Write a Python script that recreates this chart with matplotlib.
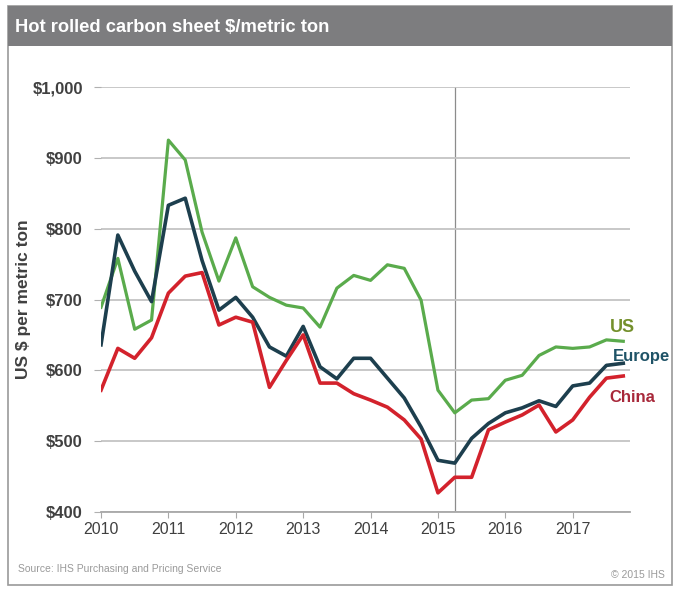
import numpy as np
import matplotlib.pyplot as plt
from matplotlib.patches import Rectangle

# ---------------------------------------------------------------
# Dados trimestrais (2010T1 .. 2017T4), US$ por tonelada métrica
# ---------------------------------------------------------------
quarters = np.arange(32)
years = [2010, 2011, 2012, 2013, 2014, 2015, 2016, 2017]

us = [689, 758, 658, 671, 925, 897, 795, 726, 787, 718, 703, 692,
      688, 661, 716, 734, 727, 749, 744, 699, 572, 540, 558, 560,
      586, 593, 621, 633, 631, 633, 643, 641]
europe = [636, 791, 740, 697, 833, 843, 755, 685, 703, 675, 633, 620,
          662, 605, 588, 617, 617, 589, 561, 520, 473, 469, 504, 525,
          540, 547, 557, 549, 578, 582, 607, 610]
china = [572, 631, 617, 646, 709, 733, 738, 664, 675, 668, 576, 614,
         650, 582, 582, 567, 558, 548, 530, 503, 427, 449, 449, 516,
         527, 537, 551, 513, 530, 562, 589, 592]

x = 2010 + quarters / 4.0
vline_x = 2015.25

c_us, c_eu, c_cn = '#5aab4c', '#1d3f4e', '#d3222c'
c_text = '#404040'

W, H = 679, 591
fig = plt.figure(figsize=(W / 100, H / 100), dpi=100)
plt.rcParams['font.family'] = ['Liberation Sans', 'DejaVu Sans']

# moldura e barra do título
fig.patches.append(Rectangle((8 / W, 6 / H), 664 / W, 579 / H, transform=fig.transFigure,
                             facecolor='white', edgecolor='#9a9a9a', lw=1.2, zorder=-2))
fig.patches.append(Rectangle((8 / W, (H - 46) / H), 664 / W, 40 / H, transform=fig.transFigure,
                             facecolor='#7d7d7f', edgecolor='none', zorder=-1))
fig.text(15 / W, (H - 27) / H, 'Hot rolled carbon sheet $/metric ton', color='white',
         fontsize=13.2, fontweight='bold', va='center', ha='left')

ax = fig.add_axes([101 / W, 79 / H, 529 / W, 425 / H])
ax.patch.set_alpha(0)
ax.plot(x, us, color=c_us, lw=2.3)
ax.plot(x, europe, color=c_eu, lw=2.6)
ax.plot(x, china, color=c_cn, lw=2.6)
ax.axvline(vline_x, color='#8c8c8c', lw=0.9, zorder=0)

ax.set_xlim(2010, 2017.85)
ax.set_ylim(400, 1000)
ax.set_yticks(range(400, 1001, 100))
ax.set_yticklabels(['$400', '$500', '$600', '$700', '$800', '$900', '$1,000'])
ax.set_xticks(years)
ax.set_xticklabels([str(y) for y in years])
ax.yaxis.grid(True, color='#c4c4c4', lw=1.3)
ax.set_axisbelow(True)
for s in ['top', 'right', 'left']:
    ax.spines[s].set_visible(False)
ax.spines['bottom'].set_color('#a8a8a8')
ax.spines['bottom'].set_linewidth(1.3)
ax.tick_params(axis='y', length=5, color='#b0b0b0', labelsize=12, labelcolor=c_text, pad=8)
ax.tick_params(axis='x', length=4, color='#a8a8a8', labelsize=11.5, labelcolor=c_text, pad=3)
for t in ax.get_yticklabels():
    t.set_fontweight('bold')

ax.set_ylabel('US $ per metric ton', fontsize=12.5, fontweight='bold', color=c_text)
ax.yaxis.set_label_coords(-0.133, 0.5)

# rótulos das séries
ax.text(2017.55, 661, 'US', color='#74902c', fontsize=13, fontweight='bold', va='center')
ax.text(2017.59, 619, 'Europe', color='#1f5367', fontsize=12, fontweight='bold', va='center')
ax.text(2017.54, 561, 'China', color='#a8283a', fontsize=12, fontweight='bold', va='center')

fig.text(18 / W, 22 / H, 'Source: IHS Purchasing and Pricing Service', color='#9a9a9a',
         fontsize=7.5, ha='left', va='center')
fig.text(665 / W, 16 / H, '© 2015 IHS', color='#9a9a9a', fontsize=7.5, ha='right', va='center')

fig.savefig('out.png', dpi=100)
